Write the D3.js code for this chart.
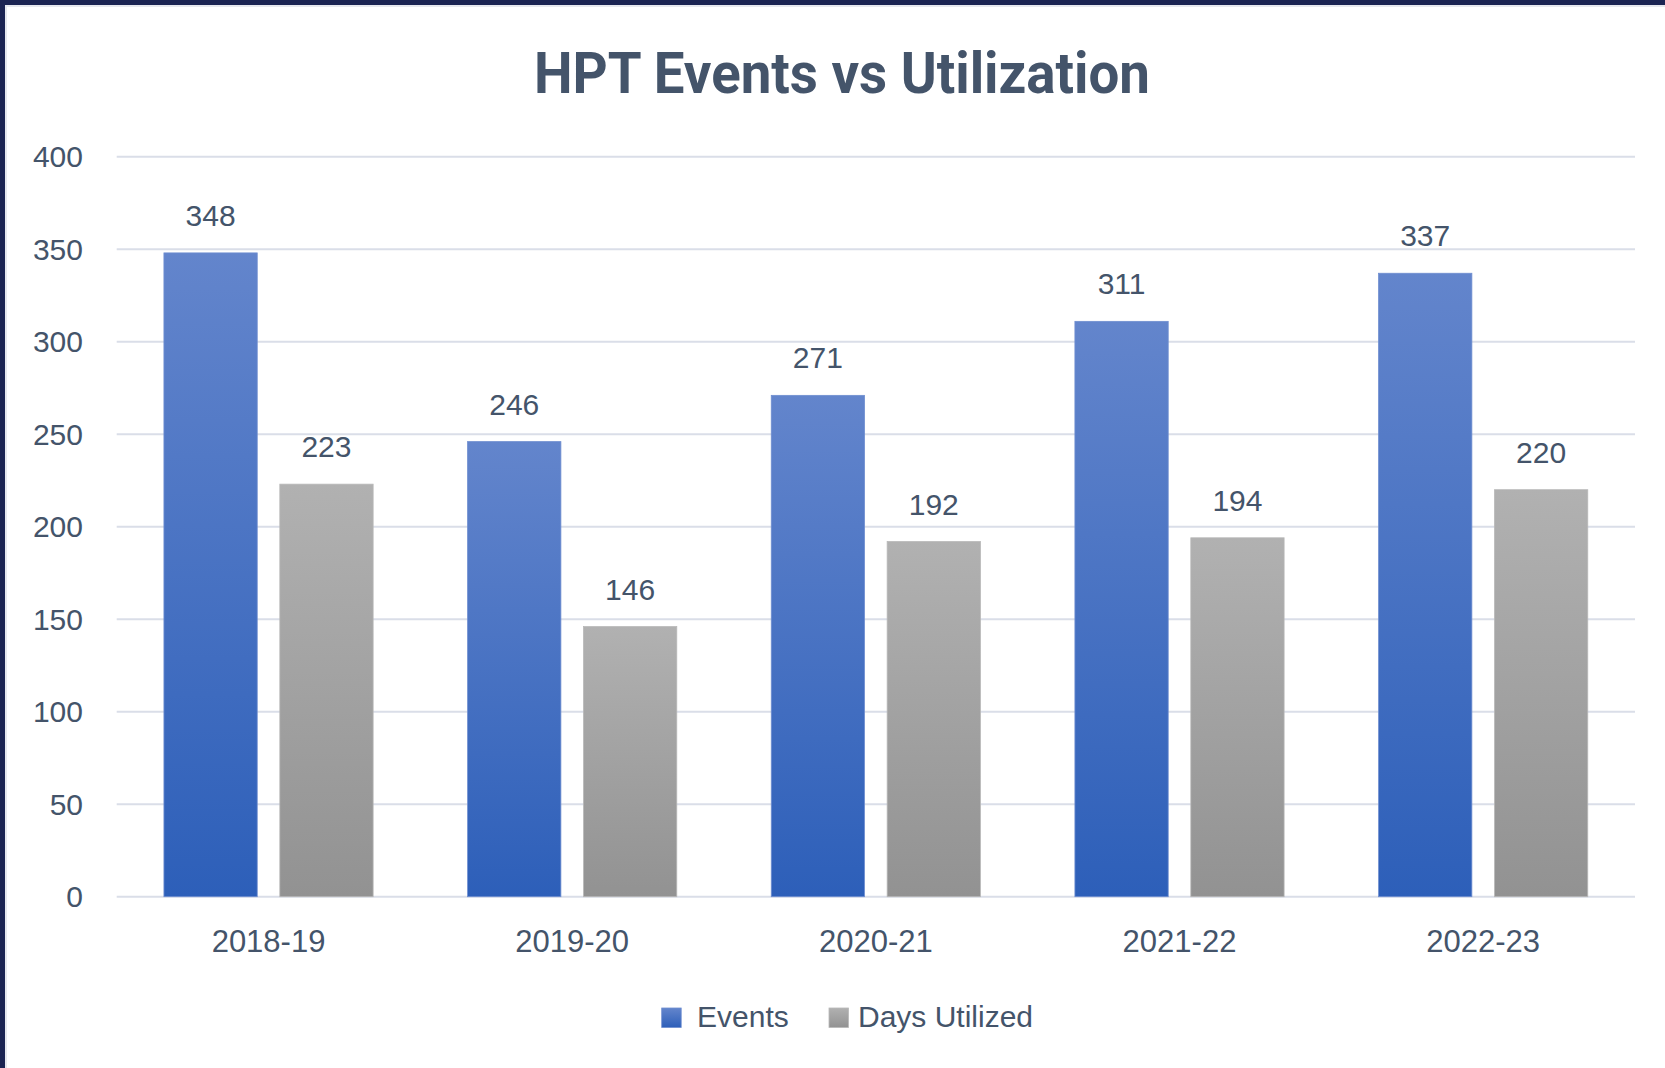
<!DOCTYPE html>
<html>
<head>
<meta charset="utf-8">
<script src="https://cdn.jsdelivr.net/npm/d3@7"></script>
<style>
  html, body { margin: 0; padding: 0; background: #fff; }
  svg { display: block; }
</style>
</head>
<body>
<script>
const categories = ["2018-19", "2019-20", "2020-21", "2021-22", "2022-23"];
const seriesNames = ["Events", "Days Utilized"];
const events = [348, 246, 271, 311, 337];
const daysUtilized = [223, 146, 192, 194, 220];
const yTicks = [0, 50, 100, 150, 200, 250, 300, 350, 400];
const titleText = "HPT Events vs Utilization";

const W = 1665, H = 1068;
const textColor = "#44546A";
const font = "'Liberation Sans', Arial, sans-serif";

const svg = d3.select("body").append("svg").attr("width", W).attr("height", H);

// border (top & left only)
svg.append("rect").attr("x", 0).attr("y", 0).attr("width", W).attr("height", H).attr("fill", "#fff");
svg.append("rect").attr("x", 0).attr("y", 0).attr("width", W).attr("height", 5).attr("fill", "#1B2452");
svg.append("rect").attr("x", 0).attr("y", 0).attr("width", 5).attr("height", H).attr("fill", "#1B2452");
svg.append("rect").attr("x", 5).attr("y", 5).attr("width", W).attr("height", 2).attr("fill", "#E6E8EE");
svg.append("rect").attr("x", 5).attr("y", 5).attr("width", 2).attr("height", H).attr("fill", "#E6E8EE");

const defs = svg.append("defs");
function grad(id, top, bottom) {
  const g = defs.append("linearGradient").attr("id", id).attr("x1", 0).attr("y1", 0).attr("x2", 0).attr("y2", 1);
  g.append("stop").attr("offset", "0%").attr("stop-color", top);
  g.append("stop").attr("offset", "100%").attr("stop-color", bottom);
}
grad("gBlue", "#6385CC", "#2D5FB9");
grad("gGray", "#B1B1B1", "#929292");
const fills = { "Events": "url(#gBlue)", "Days Utilized": "url(#gGray)" };
const strokes = { "Events": "#6F8ED0", "Days Utilized": "#B8B8B8" };

const plot = { left: 116.7, right: 1635, top: 156.7, bottom: 896.7 };

const x0 = d3.scaleBand().domain(categories).range([plot.left, plot.right]).paddingInner(0).paddingOuter(0);
const x1 = d3.scaleBand().domain(seriesNames).range([0, x0.bandwidth()]).paddingInner(0.195).paddingOuter(0.4075);
const y = d3.scaleLinear().domain([0, 400]).range([plot.bottom, plot.top]);

// gridlines
svg.append("g").selectAll("line").data(yTicks).join("line")
  .attr("x1", plot.left).attr("x2", plot.right)
  .attr("y1", d => y(d)).attr("y2", d => y(d))
  .attr("stroke", "#DADEE8").attr("stroke-width", 2);

// y axis labels
const yAxis = d3.axisLeft(y).tickValues(yTicks).tickSize(0).tickPadding(0);
const yg = svg.append("g").attr("transform", `translate(${83},0)`).call(yAxis);
yg.select(".domain").remove();
yg.selectAll("text").attr("font-family", font).attr("font-size", 30).attr("fill", textColor).attr("dy", "0.33em");

// x axis labels
const xAxis = d3.axisBottom(x0).tickSize(0).tickPadding(0);
const xg = svg.append("g").attr("transform", `translate(0,${plot.bottom})`).call(xAxis);
xg.select(".domain").remove();
xg.selectAll("text").attr("font-family", font).attr("font-size", 31).attr("fill", textColor).attr("dy", null).attr("y", 55);

// bars
const rows = categories.map((c, i) => ({ cat: c, vals: [
  { s: "Events", v: events[i] }, { s: "Days Utilized", v: daysUtilized[i] } ] }));

const groups = svg.append("g").selectAll("g").data(rows).join("g")
  .attr("transform", d => `translate(${x0(d.cat)},0)`);

groups.selectAll("rect").data(d => d.vals).join("rect")
  .attr("x", d => x1(d.s)).attr("width", x1.bandwidth())
  .attr("y", d => y(d.v)).attr("height", d => y(0) - y(d.v))
  .attr("fill", d => fills[d.s]).attr("stroke", d => strokes[d.s]).attr("stroke-width", 0.8);

groups.selectAll("text").data(d => d.vals).join("text")
  .attr("x", d => x1(d.s) + x1.bandwidth() / 2)
  .attr("y", d => y(d.v) - 27)
  .attr("text-anchor", "middle")
  .attr("font-family", font).attr("font-size", 30).attr("fill", textColor)
  .text(d => d.v);

// title
svg.append("text").attr("x", 842).attr("y", 93)
  .attr("text-anchor", "middle")
  .attr("font-family", "Roboto, 'Liberation Sans', sans-serif").attr("font-weight", 700)
  .attr("font-size", 58).attr("fill", textColor)
  .attr("textLength", 616).attr("lengthAdjust", "spacingAndGlyphs")
  .text(titleText);

// legend
const legendItems = [
  { s: "Events", sx: 661.7, tx: 697 },
  { s: "Days Utilized", sx: 829, tx: 858 }
];
const lg = svg.append("g");
lg.selectAll("rect").data(legendItems).join("rect")
  .attr("x", d => d.sx).attr("y", 1008).attr("width", 19.5).attr("height", 19.5)
  .attr("fill", d => fills[d.s]).attr("stroke", d => strokes[d.s]).attr("stroke-width", 0.8);
lg.selectAll("text").data(legendItems).join("text")
  .attr("x", d => d.tx).attr("y", 1027)
  .attr("font-family", font).attr("font-size", 30).attr("fill", textColor)
  .text(d => d.s);
</script>
</body>
</html>
